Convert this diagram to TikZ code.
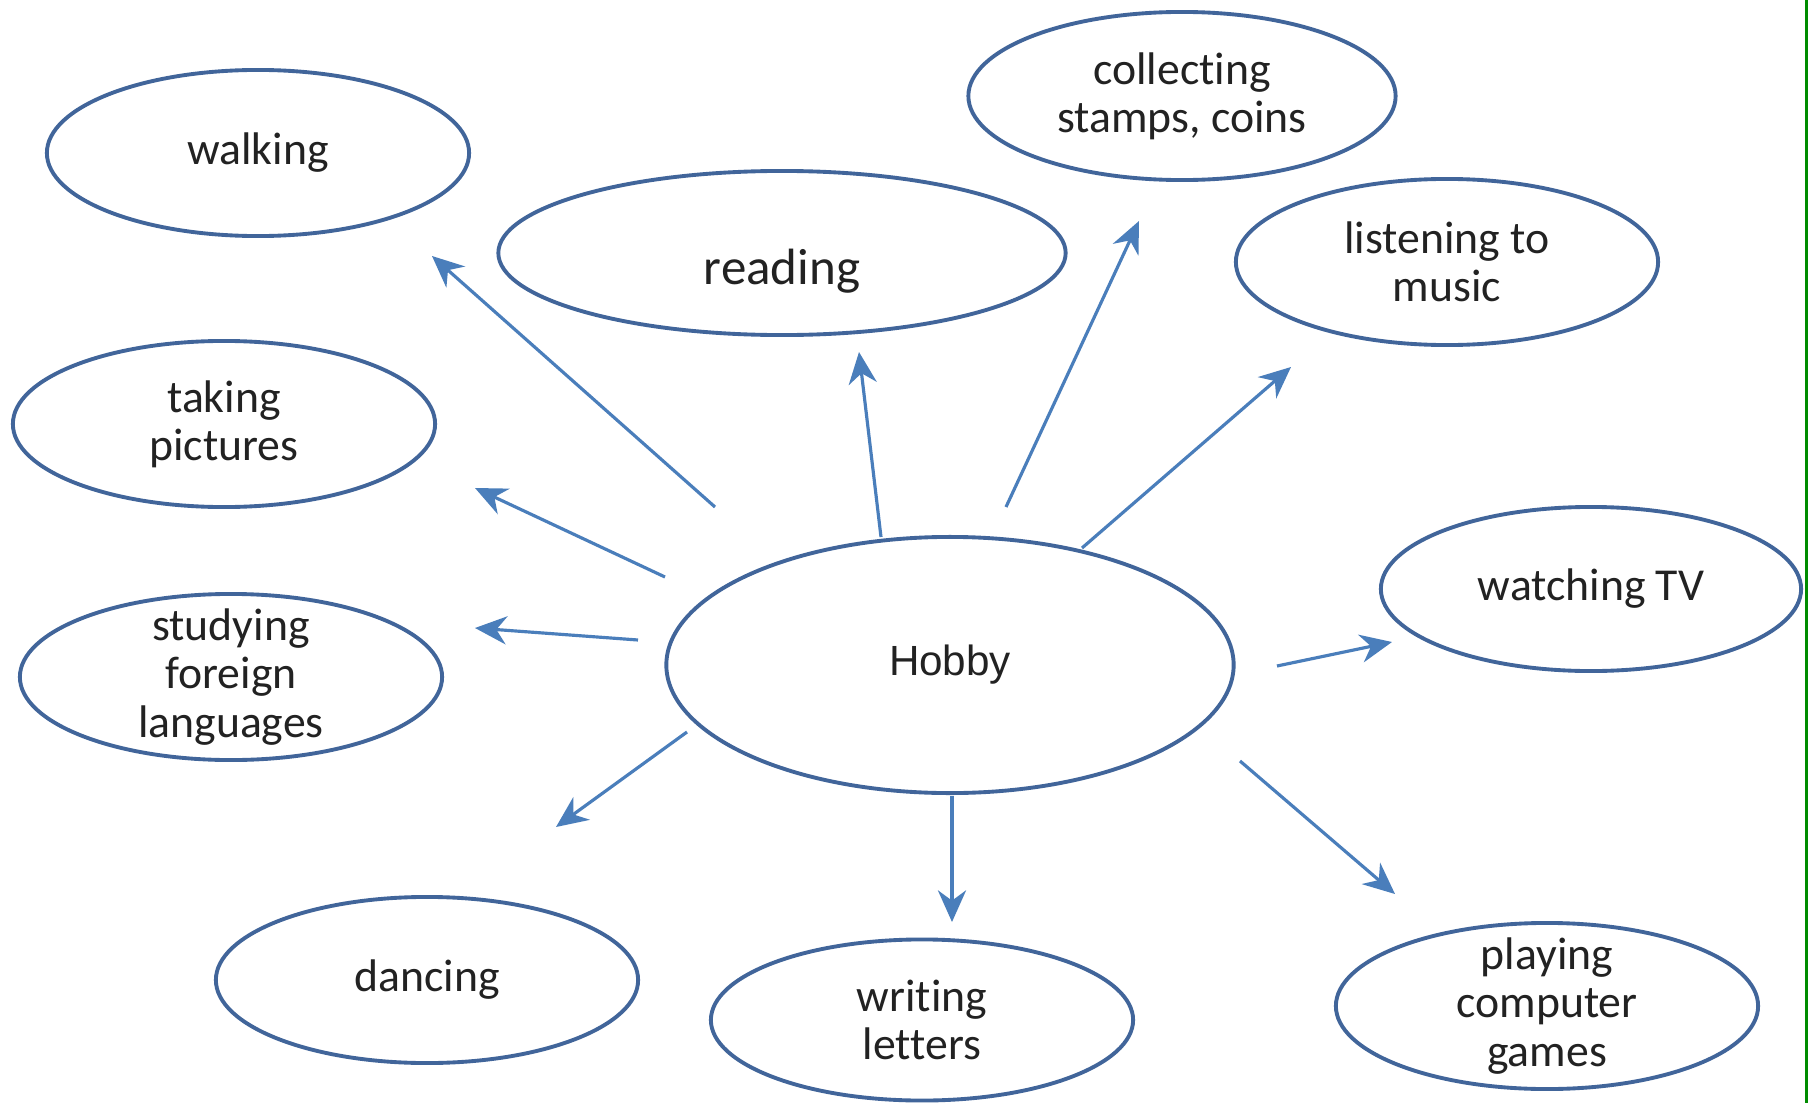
\documentclass[tikz,border=0pt]{standalone}
\usepackage{fontspec}
\setmainfont[Ligatures=NoCommon]{Carlito}
\newfontfamily\hobbyfont{Liberation Sans}
\usetikzlibrary{shapes.geometric, arrows.meta, positioning}
\definecolor{rim}{HTML}{41659A}
\definecolor{arr}{HTML}{4A7EBB}
\definecolor{ink}{HTML}{222222}
\definecolor{edge}{HTML}{008C00}

\begin{document}
\begin{tikzpicture}[x=0.01cm, y=-0.01cm,
    bubble/.style={draw=rim, line width=1.1pt, ellipse, inner xsep=0pt, inner ysep=-10pt, minimum width=4.22cm, minimum height=1.66cm, align=center, text=ink, font=\fontsize{13}{13.7}\selectfont},
    link/.style={draw=arr, line width=0.9pt, -{Stealth[length=9pt, width=8pt]}}
]
    \fill[white] (0,0) rectangle (1808,1103);
    \useasboundingbox (0,0) rectangle (1808,1103);
    \fill[edge] (1805,0) rectangle (1808,1103);

    \node[bubble] (walk) at (258,153) {walking};
    \node[bubble, minimum width=5.67cm, minimum height=1.64cm, font=\fontsize{14.5}{16}\selectfont] (read) at (782,253) {\raisebox{-0.31cm}[0pt][0pt]{reading}};
    \node[bubble, minimum width=4.27cm, minimum height=1.68cm] (stamp) at (1182,96) {collecting\\stamps, coins};
    \node[bubble] (music) at (1447,262) {listening to\\music};
    \node[bubble] (photo) at (224,424) {taking\\pictures};
    \node[bubble] (lang) at (231,677) {studying\\foreign\\languages};
    \node[bubble, minimum width=5.67cm, minimum height=2.56cm, font=\hobbyfont\fontsize{12}{14}\selectfont] (hobby) at (950,665) {Hobby};
    \node[bubble, minimum width=4.2cm, minimum height=1.64cm] (tv) at (1591,589) {watching TV};
    \node[bubble] (dance) at (427,980) {dancing};
    \node[bubble, minimum height=1.61cm] (letter) at (922,1020) {writing\\letters};
    \node[bubble] (game) at (1547,1006) {playing\\computer\\games};

    \coordinate (walk-s) at (715,507);   \coordinate (walk-e) at (432,256);
    \coordinate (read-s) at (881,537);   \coordinate (read-e) at (859,352);
    \coordinate (stamp-s) at (1006,507); \coordinate (stamp-e) at (1139,221);
    \coordinate (music-s) at (1082,548); \coordinate (music-e) at (1291,367);
    \coordinate (photo-s) at (665,577);  \coordinate (photo-e) at (475,488);
    \coordinate (lang-s) at (638,640);   \coordinate (lang-e) at (475,628);
    \coordinate (tv-s) at (1277,666);    \coordinate (tv-e) at (1392,642);
    \coordinate (dance-s) at (687,732);  \coordinate (dance-e) at (556,827);
    \coordinate (letter-s) at (952,796); \coordinate (letter-e) at (952,922);
    \coordinate (game-s) at (1240,761);  \coordinate (game-e) at (1395,894);

    \draw[link] (walk-s) -- (walk-e);
    \draw[link] (read-s) -- (read-e);
    \draw[link] (stamp-s) -- (stamp-e);
    \draw[link] (music-s) -- (music-e);
    \draw[link] (photo-s) -- (photo-e);
    \draw[link] (lang-s) -- (lang-e);
    \draw[link] (tv-s) -- (tv-e);
    \draw[link] (dance-s) -- (dance-e);
    \draw[link] (letter-s) -- (letter-e);
    \draw[link] (game-s) -- (game-e);
\end{tikzpicture}
\end{document}
